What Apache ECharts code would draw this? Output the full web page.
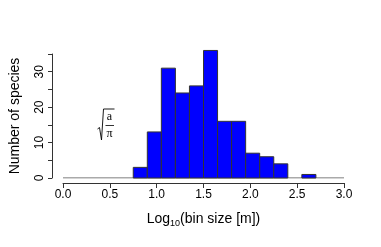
<!DOCTYPE html>
<html><head><meta charset="utf-8">
<script src="https://cdn.jsdelivr.net/npm/echarts@6/dist/echarts.min.js"></script>
<style>html,body{margin:0;padding:0;background:#fff}#c{width:381px;height:247px}</style>
</head><body><div id="c"></div>
<script>
const binStarts = [0.75, 0.90, 1.05, 1.20, 1.35, 1.50, 1.65, 1.80, 1.95, 2.10, 2.25, 2.40, 2.55];
const counts    = [3, 13, 31, 24, 26, 36, 16, 16, 7, 6, 4, 0, 1];
const binWidth = 0.15;
const xTicks = [0, 0.5, 1, 1.5, 2, 2.5, 3];
const yTicks = [0, 10, 20, 30];

const chart = echarts.init(document.getElementById('c'), null, {renderer: 'canvas'});
const font = 'Liberation Sans, Arial, Helvetica, sans-serif';
const serif = 'Liberation Serif, Times New Roman, serif';
const data = binStarts.map((s, i) => [s, s + binWidth, counts[i]]);

chart.setOption({
  animation: false,
  grid: {left: 63, right: 37, top: 54, bottom: 69},
  xAxis: {
    type: 'value', min: 0, max: 3, interval: 0.5, offset: 5,
    axisLine: {show: true, onZero: false, lineStyle: {color: '#333', width: 1}},
    axisTick: {show: true, length: 5, inside: false, lineStyle: {color: '#333'}},
    splitLine: {show: false},
    axisLabel: {color: '#000', fontFamily: font, fontSize: 12, margin: 6,
      formatter: v => xTicks.includes(v) ? v.toFixed(1) : ''},
    name: '{a|Log}{s|10}{a|(bin size [m])}',
    nameLocation: 'middle', nameGap: 27,
    nameTextStyle: {rich: {
      a: {fontFamily: font, fontSize: 14, color: '#000'},
      s: {fontFamily: font, fontSize: 9, color: '#000', verticalAlign: 'bottom', padding: [9, 0, 0, 0]}
    }}
  },
  yAxis: {
    type: 'value', min: 0, max: 35, interval: 5, offset: 11,
    axisLine: {show: true, onZero: false, lineStyle: {color: '#333', width: 1}},
    axisTick: {show: true, length: 4, lineStyle: {color: '#333'}},
    splitLine: {show: false},
    axisLabel: {color: '#000', fontFamily: font, fontSize: 12, rotate: 90, margin: 6,
      formatter: v => yTicks.includes(v) ? String(v) : ''},
    name: 'Number of species', nameLocation: 'middle', nameGap: 30, nameRotate: 90,
    nameTextStyle: {fontFamily: font, fontSize: 14, color: '#000'}
  },
  series: [
    {
      type: 'line', data: [[0, 0], [3, 0]], symbol: 'none', silent: true,
      lineStyle: {color: '#555', width: 1}, z: 1
    },
    {
      type: 'custom', clip: false, z: 2,
      data: data,
      renderItem: function (params, api) {
        const v = api.value(2);
        if (!v) return null;
        const p0 = api.coord([api.value(0), v]);
        const p1 = api.coord([api.value(1), 0]);
        return {
          type: 'rect',
          shape: {x: p0[0], y: p0[1], width: p1[0] - p0[0], height: p1[1] - p0[1]},
          style: {fill: '#0000FF', stroke: '#333', lineWidth: 1}
        };
      }
    }
  ],
  graphic: [
    {type: 'polyline', shape: {points: [[97.5, 129], [99.5, 127.5], [101.5, 140], [103.5, 109], [114.5, 109]]},
     style: {stroke: '#000', fill: null, lineWidth: 0.9}},
    {type: 'text', x: 109.5, y: 117, style: {text: 'a', fontFamily: serif, fontSize: 12, fill: '#000', align: 'center', verticalAlign: 'middle'}},
    {type: 'line', shape: {x1: 105.5, y1: 125.5, x2: 114, y2: 125.5}, style: {stroke: '#000', lineWidth: 0.8}},
    {type: 'text', x: 109.5, y: 133.5, style: {text: 'π', fontFamily: serif, fontSize: 12, fill: '#000', align: 'center', verticalAlign: 'middle'}}
  ]
});
</script></body></html>
